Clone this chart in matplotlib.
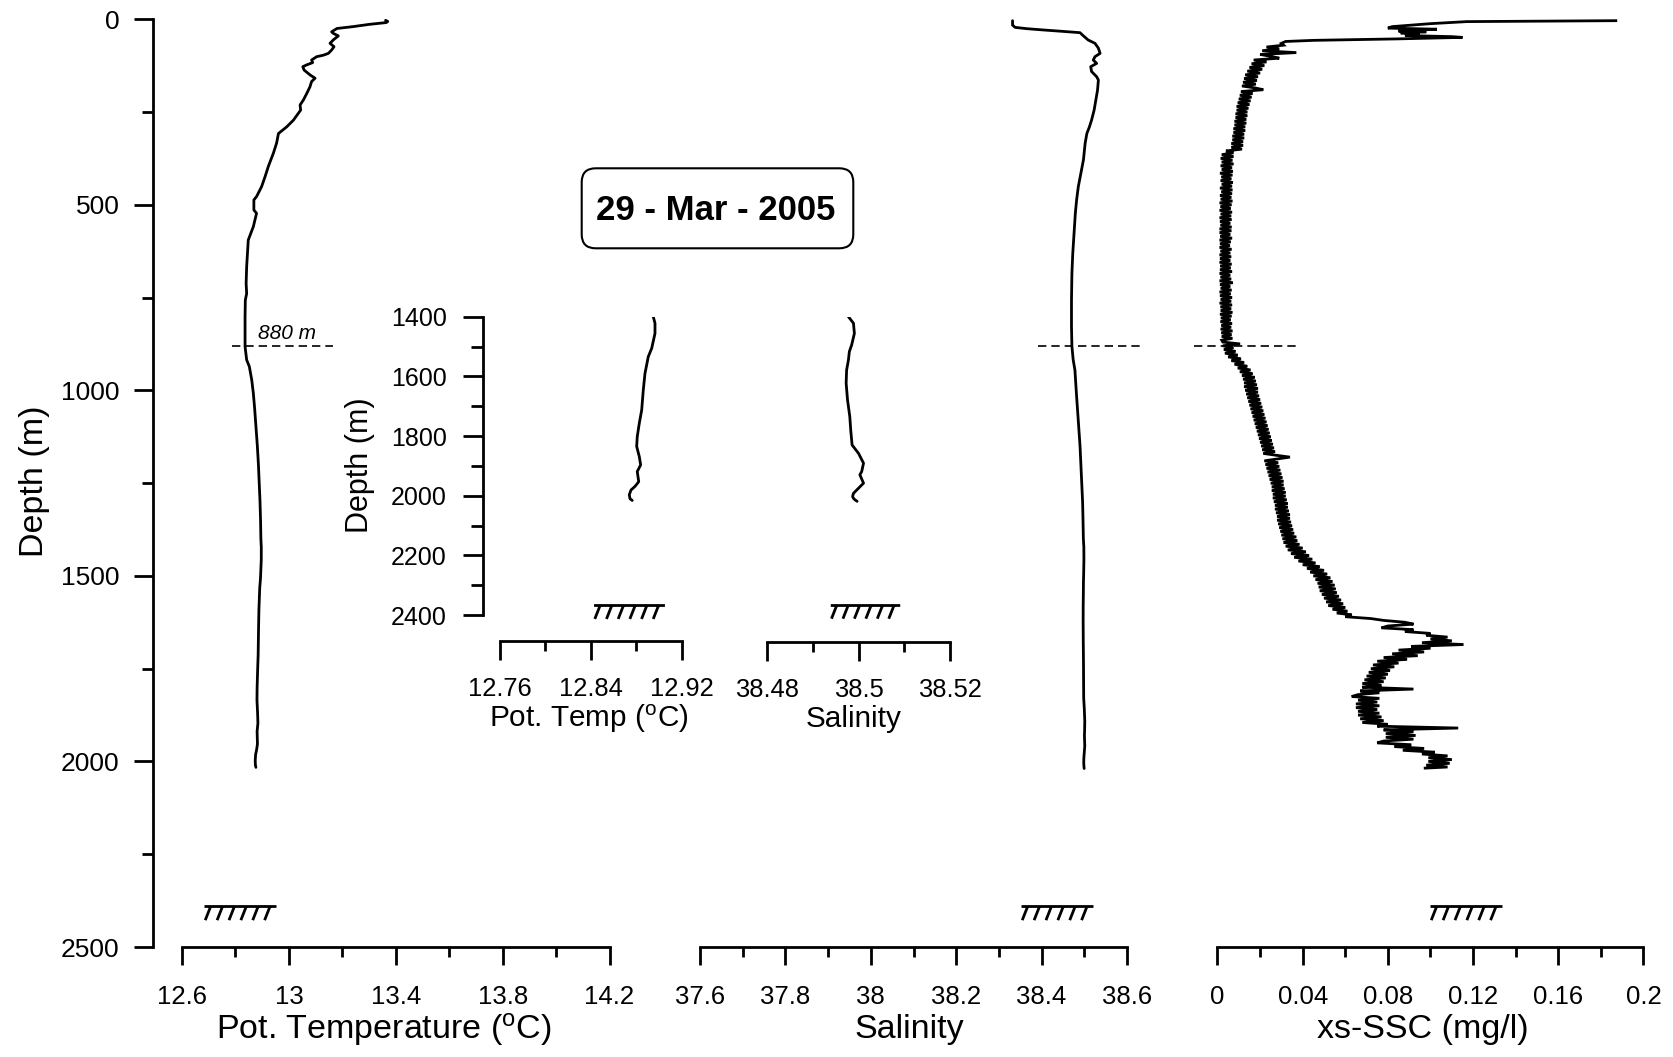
import numpy as np
import matplotlib
matplotlib.use("Agg")
import matplotlib.pyplot as plt
from matplotlib.path import Path
from matplotlib.patches import FancyBboxPatch
from matplotlib.transforms import IdentityTransform

plt.rcParams['font.family'] = ['Liberation Sans', 'DejaVu Sans']
plt.rcParams['mathtext.fontset'] = 'custom'
plt.rcParams['mathtext.rm'] = 'Liberation Sans'
plt.rcParams['mathtext.it'] = 'Liberation Sans:italic'
plt.rcParams['mathtext.bf'] = 'Liberation Sans:bold'

# ---------------- CTD cast, 29 March 2005 ----------------
# Potential temperature (deg C) against depth (m)
temp_depth = [3, 6, 9, 14, 20, 25, 34, 38, 45, 56,
              65, 74, 83, 92, 97, 101, 110, 117, 123, 128,
              137, 150, 159, 168, 182, 200, 218, 231, 245, 254,
              272, 290, 308, 334, 361, 397, 424, 451, 478, 487,
              514, 523, 559, 595, 631, 667, 712, 739, 757, 802,
              846, 882, 918, 936, 972, 1008, 1050, 1100, 1150, 1200,
              1250, 1300, 1350, 1400, 1422, 1456, 1506, 1534, 1590, 1646,
              1713, 1757, 1802, 1835, 1869, 1897, 1919, 1953, 1969, 1981,
              1997, 2010, 2016]
temp_values = [13.362, 13.370, 13.365, 13.300, 13.240, 13.180, 13.160, 13.166, 13.185, 13.166,
               13.154, 13.169, 13.160, 13.148, 13.129, 13.104, 13.085, 13.089, 13.067, 13.052,
               13.057, 13.079, 13.098, 13.085, 13.079, 13.067, 13.054, 13.042, 13.044, 13.035,
               13.017, 12.992, 12.961, 12.954, 12.942, 12.923, 12.911, 12.898, 12.879, 12.869,
               12.869, 12.879, 12.867, 12.848, 12.845, 12.842, 12.840, 12.842, 12.837, 12.836,
               12.836, 12.836, 12.842, 12.852, 12.861, 12.867, 12.872, 12.877, 12.882, 12.886,
               12.889, 12.892, 12.894, 12.8952, 12.8967, 12.8967, 12.8938, 12.8908, 12.8879, 12.8864,
               12.8850, 12.8829, 12.8811, 12.8806, 12.8829, 12.8841, 12.8811, 12.8824, 12.8791, 12.8756,
               12.8741, 12.8747, 12.8767]

# Salinity against depth (m)
sal_depth = [4, 16, 22, 25.5, 29, 33.6, 36.3, 45, 56, 65,
             78, 92, 101, 110, 119, 128, 141, 155, 164, 191,
             218, 245, 272, 290, 308, 334, 379, 415, 451, 487,
             523, 577, 631, 685, 757, 829, 882, 918, 945, 1017,
             1050, 1100, 1150, 1200, 1250, 1300, 1350, 1400, 1422, 1456,
             1495, 1517, 1545, 1579, 1623, 1679, 1735, 1780, 1830, 1858,
             1891, 1919, 1930, 1958, 1975, 1992, 2003, 2011, 2019]
sal_values = [38.332, 38.332, 38.338, 38.365, 38.404, 38.459, 38.490, 38.498, 38.509, 38.525,
              38.533, 38.537, 38.525, 38.521, 38.529, 38.515, 38.517, 38.529, 38.533, 38.531,
              38.527, 38.523, 38.517, 38.512, 38.506, 38.502, 38.498, 38.492, 38.486, 38.482,
              38.479, 38.476, 38.473, 38.471, 38.470, 38.470, 38.471, 38.474, 38.478, 38.482,
              38.484, 38.487, 38.490, 38.492, 38.494, 38.496, 38.497, 38.4978, 38.4989, 38.4991,
              38.4985, 38.4980, 38.4978, 38.4974, 38.4973, 38.4976, 38.4981, 38.4983, 38.4986, 38.5000,
              38.5011, 38.5007, 38.5003, 38.5011, 38.5000, 38.4989, 38.4987, 38.4990, 38.4997]

# Excess suspended sediment concentration (mg/l): surface layer readings
ssc_surface_depth = [4, 6.5, 12, 20, 24, 27, 32, 34, 37, 40, 44, 47, 49, 53, 57, 60, 65]
ssc_surface_values = [0.187, 0.117, 0.100, 0.082, 0.080, 0.103, 0.085, 0.098, 0.086, 0.095,
                      0.088, 0.110, 0.115, 0.085, 0.045, 0.032, 0.030]
# 5 m bins from 70 m down to 2015 m (one row = 50 m)
SSC_BIN_START, SSC_BIN_STEP = 70, 5
ssc_binned_values = [
    .031, .023, .029, .021, .037, .020, .025, .029, .017, .023,            # 70-115
    .016, .022, .015, .021, .014, .020, .013, .019, .0125, .0185,          # 120-165
    .012, .018, .0115, .0175, .0215, .011, .0165, .0105, .016, .010,       # 170-215
    .0155, .0095, .015, .009, .0145, .009, .014, .0085, .014, .0085,       # 220-265
    .0135, .008, .0135, .008, .013, .0075, .013, .0075, .0125, .007,       # 270-315
    .0125, .007, .012, .0065, .012, .0065, .0115, .004, .0075, .002,       # 320-365
    .0075, .0015, .007, .002, .0075, .0015, .0068, .002, .0072, .0012,     # 370-415
    .007, .0018, .0065, .0015, .0072, .002, .0068, .0012, .007, .0018,     # 420-465
    .0068, .0012, .0065, .0015, .007, .001, .0066, .0014, .0062, .001,     # 470-515
    .0068, .0015, .0064, .001, .0066, .0012, .006, .0014, .0066, .001,     # 520-565
    .0065, .001, .006, .0013, .0068, .001, .0062, .0012, .0058, .001,      # 570-615
    .0066, .0014, .006, .001, .0064, .0012, .006, .001, .0066, .0013,      # 620-665
    .0062, .0012, .0068, .001, .006, .0014, .0064, .001, .0072, .0012,     # 670-715
    .006, .0015, .0066, .001, .0062, .0012, .0068, .0015, .0064, .001,     # 720-765
    .0068, .0014, .0064, .0015, .007, .0012, .0066, .0016, .0062, .0014,   # 770-815
    .0068, .0018, .0064, .0015, .007, .0018, .0066, .002, .007, .002,      # 820-865
    .0025, .0106, .0025, .0075, .003, .0085, .0035, .0095, .005, .011,     # 870-915
    .0065, .0125, .008, .014, .0095, .0155, .0105, .0165, .0115, .0175,    # 920-965
    .012, .018, .0125, .0185, .0125, .019, .013, .019, .0135, .0195,       # 970-1015
    .014, .020, .0145, .0205, .015, .021, .0155, .0215, .016, .022,        # 1020-1065
    .0165, .0225, .017, .023, .0175, .0235, .018, .024, .0185, .0245,      # 1070-1115
    .019, .025, .0195, .0255, .020, .026, .0205, .0265, .021, .027,        # 1120-1165
    .0215, .0275, .034, .028, .022, .0285, .0225, .029, .023, .0295,       # 1170-1215
    .0235, .030, .024, .0305, .0245, .031, .025, .031, .0255, .0315,       # 1220-1265
    .0255, .032, .026, .032, .026, .0325, .0265, .033, .027, .033,         # 1270-1315
    .027, .0335, .0275, .034, .028, .034, .028, .0345, .0285, .035,        # 1320-1365
    .029, .0355, .0295, .036, .030, .037, .0305, .0375, .031, .0385,       # 1370-1415
    .032, .040, .033, .0415, .0345, .043, .036, .0445, .038, .046,         # 1420-1465
    .040, .048, .042, .050, .0435, .0515, .045, .053, .046, .054,          # 1470-1515
    .047, .055, .0475, .0555, .048, .056, .049, .057, .050, .058,          # 1520-1565
    .051, .059, .052, .060, .054, .061, .056, .063, .060, .072,            # 1570-1615
    .078, .088, .092, .080, .077, .092, .088, .100, .098, .108,            # 1620-1665
    .100, .110, .096, .1155, .091, .100, .085, .097, .082, .094,           # 1670-1715
    .078, .089, .075, .085, .073, .083, .072, .081, .071, .080,            # 1720-1765
    .070, .079, .069, .078, .068, .077, .068, .092, .067, .076,            # 1770-1815
    .066, .063, .076, .066, .075, .065, .076, .065, .075, .066,            # 1820-1865
    .076, .066, .077, .067, .078, .068, .080, .075, .113, .078,            # 1870-1915
    .092, .079, .093, .079, .092, .078, .075, .091, .083, .097,            # 1920-1965
    .087, .102, .096, .108, .099, .110, .099, .109, .098, .108,            # 1970-2015
]
ssc_bottom_depth = [2018]
ssc_bottom_values = [0.0975]

# Axis ticks
depth_ticks = [0, 500, 1000, 1500, 2000, 2500]
depth_minor = [250, 750, 1250, 1750, 2250]
temp_ticks = [12.6, 13.0, 13.4, 13.8, 14.2]
temp_ticklabels = ["12.6", "13", "13.4", "13.8", "14.2"]
temp_minor = [12.8, 13.2, 13.6, 14.0]
sal_ticks = [37.6, 37.8, 38.0, 38.2, 38.4, 38.6]
sal_ticklabels = ["37.6", "37.8", "38", "38.2", "38.4", "38.6"]
sal_minor = [37.7, 37.9, 38.1, 38.3, 38.5]
ssc_ticks = [0, 0.04, 0.08, 0.12, 0.16, 0.2]
ssc_ticklabels = ["0", "0.04", "0.08", "0.12", "0.16", "0.2"]
ssc_minor = [0.02, 0.06, 0.10, 0.14, 0.18]
inset_depth_ticks = [1400, 1600, 1800, 2000, 2200, 2400]
inset_depth_minor = [1500, 1700, 1900, 2100, 2300]
inset_temp_ticks = [12.76, 12.84, 12.92]
inset_temp_ticklabels = ["12.76", "12.84", "12.92"]
inset_temp_minor = [12.80, 12.88]
inset_sal_ticks = [38.48, 38.50, 38.52]
inset_sal_ticklabels = ["38.48", "38.5", "38.52"]
inset_sal_minor = [38.49, 38.51]

REF_DEPTH = 880          # depth of the dashed reference level
INSET_TOP = 1400

# ---------------- figure ----------------
W, H, DPI = 1674, 1057, 100
fig = plt.figure(figsize=(W / DPI, H / DPI), dpi=DPI)
fig.patch.set_facecolor('white')


def px_axes(x0, y_top, x1, y_bottom):
    return fig.add_axes([x0 / W, 1 - y_bottom / H, (x1 - x0) / W, (y_bottom - y_top) / H])


LINE_W = 2.0
SPINE_W = 2.0
PROFILE = dict(color='black', lw=LINE_W, solid_joinstyle='round', solid_capstyle='round')


def base_style(ax):
    ax.set_facecolor('none')
    for s in ('top', 'right'):
        ax.spines[s].set_visible(False)
    for s in ('left', 'bottom'):
        ax.spines[s].set_linewidth(SPINE_W)


# seabed glyph: a horizontal bar with six slanted hatch strokes below
verts = [(-0.5, 0.0), (0.5, 0.0)]
codes = [Path.MOVETO, Path.LINETO]
for xt in [-0.415, -0.25, -0.085, 0.08, 0.245, 0.41]:
    verts += [(xt, 0.0), (xt - 0.075, -0.19)]
    codes += [Path.MOVETO, Path.LINETO]
seabed = Path(verts, codes)


def draw_seabed(ax, x, depth, size):
    ax.plot([x], [depth], marker=seabed, ms=size, mew=2.0, mfc='none', mec='black',
            linestyle='none', clip_on=False)


def ref_line(ax, x0, x1):
    ax.plot([x0, x1], [REF_DEPTH, REF_DEPTH], color='black', lw=1.2,
            linestyle=(0, (5, 3)), clip_on=False)


main_tick_x = dict(axis='x', direction='out', width=SPINE_W, labelsize=18.5, pad=14.5)
main_tick_y = dict(axis='y', direction='out', width=SPINE_W, labelsize=19, pad=10)

ax_t = px_axes(182, 19.2, 609.5, 947)
ax_s = px_axes(700, 19.2, 1127, 947)
ax_c = px_axes(1217.5, 19.2, 1643.5, 947)

panels = [
    (ax_t, (12.6, 14.2), temp_ticks, temp_ticklabels, temp_minor,
     'Pot. Temperature ($^{\\rm o}$C)', 0.4725),
    (ax_s, (37.6, 38.6), sal_ticks, sal_ticklabels, sal_minor, 'Salinity', 0.490),
    (ax_c, (0.0, 0.2), ssc_ticks, ssc_ticklabels, ssc_minor, 'xs-SSC (mg/l)', 0.4818),
]
for ax, xlim, ticks, labels, minor, xlabel, lx in panels:
    base_style(ax)
    ax.set_xlim(*xlim)
    ax.set_ylim(2500, 0)
    ax.set_xticks(ticks, labels=labels)
    ax.set_xticks(minor, minor=True)
    ax.tick_params(which='major', length=13, **main_tick_x)
    ax.tick_params(which='minor', length=7, **main_tick_x)
    ax.set_xlabel(xlabel, fontsize=24.5, va='baseline')
    ax.xaxis.set_label_coords(lx, -0.0984)
    if ax is not ax_t:
        ax.spines['left'].set_visible(False)
        ax.tick_params(axis='y', which='both', left=False, labelleft=False)

ax_t.spines['left'].set_position(('outward', 21.1))
ax_t.set_yticks(depth_ticks, labels=[str(d) for d in depth_ticks])
ax_t.set_yticks(depth_minor, minor=True)
ax_t.tick_params(which='major', length=14, **main_tick_y)
ax_t.tick_params(which='minor', length=8, **main_tick_y)
ax_t.set_ylabel('Depth (m)', fontsize=24.5, va='baseline')
ax_t.yaxis.set_label_coords(-0.3245, 0.5017)

# profiles
ax_t.plot(temp_values, temp_depth, **PROFILE)
ax_s.plot(sal_values, sal_depth, **PROFILE)
ssc_bin_depth = SSC_BIN_START + SSC_BIN_STEP * np.arange(len(ssc_binned_values))
ssc_depth = np.concatenate([ssc_surface_depth, ssc_bin_depth, ssc_bottom_depth])
ssc_values = np.concatenate([ssc_surface_values, ssc_binned_values, ssc_bottom_values])
ax_c.plot(ssc_values, ssc_depth, color='black', lw=LINE_W, solid_joinstyle='miter')

# reference level and seabed marks
ref_line(ax_t, 12.786, 13.166)
ref_line(ax_s, 38.392, 38.630)
ref_line(ax_c, -0.011, 0.0388)
ax_t.text(12.992, 862, '880 m', fontsize=15, style='italic', ha='center', va='baseline')
draw_seabed(ax_t, 12.8165, 2390, 51.8)
draw_seabed(ax_s, 38.437, 2390, 51.8)
draw_seabed(ax_c, 0.1165, 2390, 51.8)

# ---------------- deep-water inset ----------------
inset_tick_x = dict(axis='x', direction='out', width=SPINE_W, labelsize=18.4, pad=11.8)
inset_tick_y = dict(axis='y', direction='out', width=SPINE_W, labelsize=18, pad=11.5)

ax_it = px_axes(499.5, 316.7, 681.5, 615)
ax_is = px_axes(767, 316.7, 950, 615)
insets = [
    (ax_it, (12.76, 12.92), inset_temp_ticks, inset_temp_ticklabels, inset_temp_minor,
     'Pot. Temp ($^{\\rm o}$C)', 0.4907, 18.7, temp_values, temp_depth),
    (ax_is, (38.48, 38.52), inset_sal_ticks, inset_sal_ticklabels, inset_sal_minor,
     'Salinity', 0.4727, 19.4, sal_values, sal_depth),
]
for ax, xlim, ticks, labels, minor, xlabel, lx, offset, xv, dv in insets:
    base_style(ax)
    ax.set_xlim(*xlim)
    ax.set_ylim(2400, 1400)
    ax.spines['bottom'].set_position(('outward', offset))
    ax.set_xticks(ticks, labels=labels)
    ax.set_xticks(minor, minor=True)
    ax.tick_params(which='major', length=13.9, **inset_tick_x)
    ax.tick_params(which='minor', length=7, **inset_tick_x)
    ax.set_xlabel(xlabel, fontsize=21.4, va='baseline')
    ax.xaxis.set_label_coords(lx, -0.3745)
    xv = np.asarray(xv)
    dv = np.asarray(dv)
    deep = dv >= INSET_TOP
    ax.plot(xv[deep], dv[deep], **PROFILE)

ax_it.spines['left'].set_position(('outward', 11.9))
ax_it.set_yticks(inset_depth_ticks, labels=[str(d) for d in inset_depth_ticks])
ax_it.set_yticks(inset_depth_minor, minor=True)
ax_it.tick_params(which='major', length=14.4, **inset_tick_y)
ax_it.tick_params(which='minor', length=8.4, **inset_tick_y)
ax_it.set_ylabel('Depth (m)', fontsize=22, va='baseline')
ax_it.yaxis.set_label_coords(-0.7225, 0.501)
ax_is.spines['left'].set_visible(False)
ax_is.tick_params(axis='y', which='both', left=False, labelleft=False)

draw_seabed(ax_it, 12.874, 2365, 51)
draw_seabed(ax_is, 38.5014, 2365, 50)

# ---------------- date box ----------------
bx0, by_top, bw, bh, r = 581.7, 168.3, 271.6, 80.0, 14.0
box = FancyBboxPatch((bx0 + r, H - by_top - bh + r), bw - 2 * r, bh - 2 * r,
                     boxstyle=f"round,pad={r}", transform=IdentityTransform(),
                     facecolor='white', edgecolor='black', lw=1.5)
fig.add_artist(box)
fig.text(716 / W, 1 - 220 / H, '29 - Mar - 2005', ha='center', va='baseline',
         fontsize=25, fontweight='bold')

fig.savefig('out.png', dpi=DPI, facecolor='white')
